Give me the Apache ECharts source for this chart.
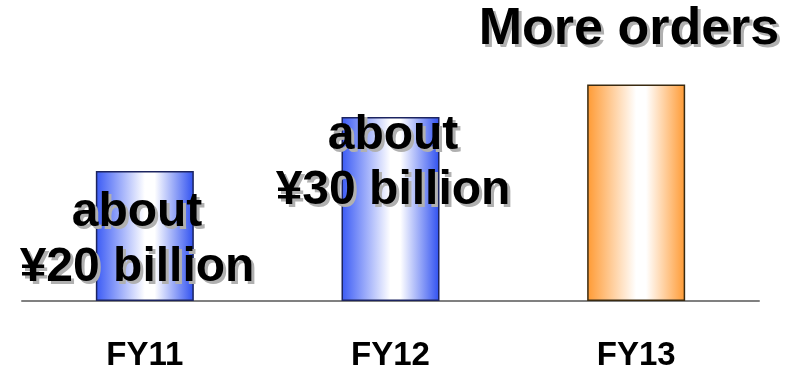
<!DOCTYPE html>
<html>
<head>
<meta charset="utf-8">
<script src="https://cdn.jsdelivr.net/npm/echarts@6/dist/echarts.min.js"></script>
<style>html,body{margin:0;padding:0;background:#fff}#c{width:798px;height:372px}</style>
</head>
<body>
<div id="c"></div>
<script>
var categories = ['FY11', 'FY12', 'FY13'];
var values = [20, 28.3, 33.3];
var valueLabels = ['about\n¥20 billion', 'about\n¥30 billion', 'More orders'];

function grad(edge, edgeR, mid) {
  return {type: 'linear', x: 0, y: 0, x2: 1, y2: 0, colorStops: [
    {offset: 0, color: edge}, {offset: 0.5, color: mid}, {offset: 0.6, color: mid}, {offset: 1, color: edgeR}]};
}
var blue = grad('#3a5af5', '#2f50f0', '#ffffff');
var orange = grad('#ff9a33', '#ff9a33', '#ffffff');
var styles = [blue, blue, orange];

var texts = [
  {x: 137, y: 240, text: valueLabels[0], font: 'bold 48px "Liberation Sans", Arial, sans-serif'},
  {x: 393, y: 163, text: valueLabels[1], font: 'bold 48px "Liberation Sans", Arial, sans-serif'},
  {x: 629, y: 30, text: valueLabels[2], font: 'bold 52px "Liberation Sans", Arial, sans-serif'}
];
var graphics = [];
texts.forEach(function (t) {
  graphics.push({type: 'text', x: t.x + 3, y: t.y + 3, z: 100, style: {text: t.text, align: 'center', verticalAlign: 'middle', font: t.font, lineHeight: 55, fill: '#b0b0b0'}});
  graphics.push({type: 'text', x: t.x, y: t.y, z: 101, style: {text: t.text, align: 'center', verticalAlign: 'middle', font: t.font, lineHeight: 55, fill: '#000'}});
});

var chart = echarts.init(document.getElementById('c'), null, {renderer: 'canvas'});
chart.setOption({
  animation: false,
  grid: {left: 22, right: 39, top: 41, bottom: 67},
  xAxis: {
    type: 'category', data: categories,
    axisLine: {lineStyle: {color: '#808080', width: 2}},
    axisTick: {show: false},
    axisLabel: {margin: 38, fontSize: 33, fontWeight: 'bold', color: '#000', fontFamily: 'Liberation Sans, Arial, sans-serif'}
  },
  yAxis: {type: 'value', min: 0, max: 40, show: false, splitLine: {show: false}},
  series: [{
    type: 'bar', barWidth: 98,
    data: values.map(function (v, i) {
      return {value: v, itemStyle: {color: styles[i], borderColor: i < 2 ? '#1c2460' : '#3a2a10', borderWidth: 1.5}};
    }),
    label: {show: false}
  }],
  graphic: graphics
});
</script>
</body>
</html>
